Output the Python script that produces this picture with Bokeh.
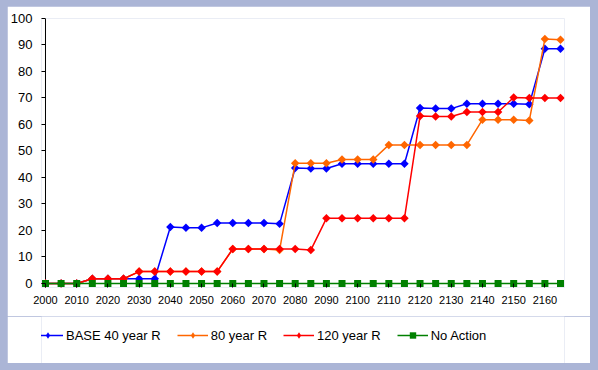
import math
from bokeh.plotting import figure
from bokeh.layouts import column
from bokeh.models import (Range1d, FixedTicker, Legend, LegendItem,
                          GlobalInlineStyleSheet, ColumnDataSource)
from bokeh.embed import file_html
from bokeh.resources import INLINE

# ---------------- data ----------------
years = [2000, 2005, 2010, 2015, 2020, 2025, 2030, 2035, 2040, 2045,
         2050, 2055, 2060, 2065, 2070, 2075, 2080, 2085, 2090, 2095,
         2100, 2105, 2110, 2115, 2120, 2125, 2130, 2135, 2140, 2145,
         2150, 2155, 2160, 2165]

base_40 = [0, 0, 0, 1.8, 1.8, 1.8, 1.8, 1.8, 21.3, 21.0,
           21.0, 22.8, 22.8, 22.8, 22.8, 22.5, 43.6, 43.4, 43.4, 45.2,
           45.2, 45.2, 45.2, 45.2, 66.2, 66.0, 66.0, 67.8, 67.8, 67.8,
           67.8, 67.6, 88.6, 88.6]

r_80 = [0, 0, 0, 1.8, 1.8, 1.8, 4.5, 4.5, 4.5, 4.5,
        4.5, 4.5, 13.0, 13.0, 13.0, 12.6, 45.4, 45.4, 45.4, 46.8,
        46.8, 46.8, 52.3, 52.3, 52.3, 52.3, 52.3, 52.3, 61.8, 61.8,
        61.8, 61.5, 92.3, 92.0]

r_120 = [0, 0, 0, 1.8, 1.8, 1.8, 4.5, 4.5, 4.5, 4.5,
         4.5, 4.5, 13.0, 13.0, 13.0, 13.0, 13.0, 12.6, 24.6, 24.6,
         24.6, 24.6, 24.6, 24.6, 63.2, 63.0, 63.0, 64.7, 64.7, 64.7,
         70.2, 70.0, 70.0, 70.0]

no_action = [0, 0, 0, 0, 0, 0, 0, 0, 0, 0,
             0, 0, 0, 0, 0, 0, 0, 0, 0, 0,
             0, 0, 0, 0, 0, 0, 0, 0, 0, 0,
             0, 0, 0, 0]

x_ticks = [2000, 2010, 2020, 2030, 2040, 2050, 2060, 2070, 2080,
           2090, 2100, 2110, 2120, 2130, 2140, 2150, 2160]
y_ticks = [0, 10, 20, 30, 40, 50, 60, 70, 80, 90, 100]

series_names = ["BASE 40 year R", "80 year R", "120 year R", "No Action"]
series_values = [base_40, r_80, r_120, no_action]
series_colors = ["#0000FF", "#FF6600", "#FF0000", "#008000"]

FONT = "Liberation Sans"
FRAME_BG = "#ABB5D6"

# ---------------- main chart ----------------
p = figure(width=583, height=310, output_backend="svg", toolbar_location=None,
           x_range=Range1d(1998.72, 2166.28), y_range=Range1d(-1.51, 100),
           min_border_left=33, min_border_right=26, min_border_top=12,
           min_border_bottom=29,
           border_fill_color="white", background_fill_color="white",
           outline_line_color=None)

p.xgrid.visible = False
p.ygrid.visible = False

xa = p.xaxis[0]
xa.ticker = FixedTicker(ticks=x_ticks)
xa.axis_line_color = None
xa.major_tick_out = 0
xa.major_tick_in = 4
xa.major_tick_line_color = "black"
xa.minor_tick_out = 0
xa.minor_tick_in = 0
xa.major_label_standoff = 8
xa.major_label_text_font = FONT
xa.major_label_text_font_size = "11px"
xa.major_label_text_color = "black"

ya = p.yaxis[0]
ya.ticker = FixedTicker(ticks=y_ticks)
ya.axis_line_color = None
ya.major_tick_out = 0
ya.major_tick_in = 4
ya.major_tick_line_color = "black"
ya.minor_tick_out = 0
ya.minor_tick_in = 0
ya.major_label_standoff = 9
ya.major_label_text_font = FONT
ya.major_label_text_font_size = "13px"
ya.major_label_text_color = "black"

# value axis line, at the first category, from the lowest to the highest tick
p.segment(x0=[years[0]], y0=[y_ticks[0]], x1=[years[0]], y1=[y_ticks[-1]],
          line_color="black", line_width=1)

# ---------------- legend strip (its own small figure) ----------------
pl = figure(width=583, height=47, output_backend="svg", toolbar_location=None,
            x_range=Range1d(-2, -1), y_range=Range1d(-2, -1),
            x_axis_location=None, y_axis_location=None,
            min_border_left=0, min_border_right=0, min_border_top=0,
            min_border_bottom=0,
            border_fill_color="white", background_fill_color="white",
            outline_line_color=None)
pl.xgrid.visible = False
pl.ygrid.visible = False

items = []
for name, vals, col in zip(series_names, series_values, series_colors):
    src = ColumnDataSource(dict(x=years, y=vals))
    # chart
    p.line("x", "y", source=src, line_color=col, line_width=1.5)
    if name == "No Action":
        p.scatter("x", "y", source=src, marker="square", size=7,
                  fill_color=col, line_color=None)
    else:
        p.scatter("x", "y", source=src, marker="square", size=6,
                  angle=math.pi / 4, fill_color=col, line_color=None)
    # legend strip: its renderers lie outside its ranges, so only
    # the legend glyphs are seen
    ln = pl.line("x", "y", source=src, line_color=col, line_width=1.5)
    if name == "No Action":
        mk = pl.scatter("x", "y", source=src, marker="square", size=7,
                        fill_color=col, line_color=None)
    else:
        mk = pl.scatter("x", "y", source=src, marker="diamond", size=10,
                        fill_color=col, line_color=None)
    items.append(LegendItem(label=name, renderers=[ln, mk]))

legend = Legend(items=items, orientation="horizontal", location=(-9, 20),
                spacing=16, glyph_width=31, glyph_height=16, label_height=16,
                label_standoff=3, padding=0, margin=0,
                border_line_color=None, background_fill_alpha=0,
                label_text_font=FONT, label_text_font_size="13px",
                label_text_color="black")
pl.add_layout(legend, "center")

layout = column(p, pl)
layout.stylesheets = [GlobalInlineStyleSheet(
    css="html, body { background: %s; } body { padding: 6px 0 0 7px; }" % FRAME_BG)]

open("out.html", "w").write(file_html(layout, INLINE))
